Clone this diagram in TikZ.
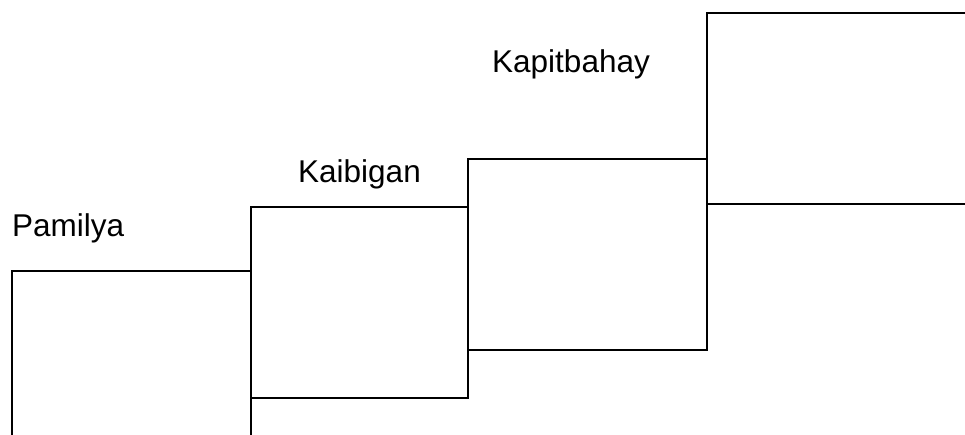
\documentclass[tikz,border=0pt]{standalone}
\usepackage{fontspec}
\setmainfont{Liberation Sans}
\begin{document}
\begin{tikzpicture}[x=1pt,y=-1pt,
  stair/.style={line width=2pt,black,line cap=rect},
  lbl/.style={anchor=base west,inner sep=0pt,font=\fontsize{31.5}{36}\selectfont}]
\useasboundingbox (0,0) rectangle (965,434);
% box 1
\draw[stair] (12,434) -- (12,271) -- (251,271);
\draw[stair] (251,434) -- (251,207);
% box 2
\draw[stair] (251,207) -- (468,207);
\draw[stair] (251,398) -- (468,398) -- (468,159);
% box 3
\draw[stair] (468,159) -- (707,159);
\draw[stair] (468,350) -- (707,350) -- (707,13);
% box 4
\draw[stair] (707,13) -- (966,13);
\draw[stair] (707,204) -- (966,204);
% labels
\node[lbl] (pamilya) at (12,236) {Pamilya};
\node[lbl] (kaibigan) at (298,182) {Kaibigan};
\node[lbl] (kapitbahay) at (492,72) {Kapitbahay};
\end{tikzpicture}
\end{document}
